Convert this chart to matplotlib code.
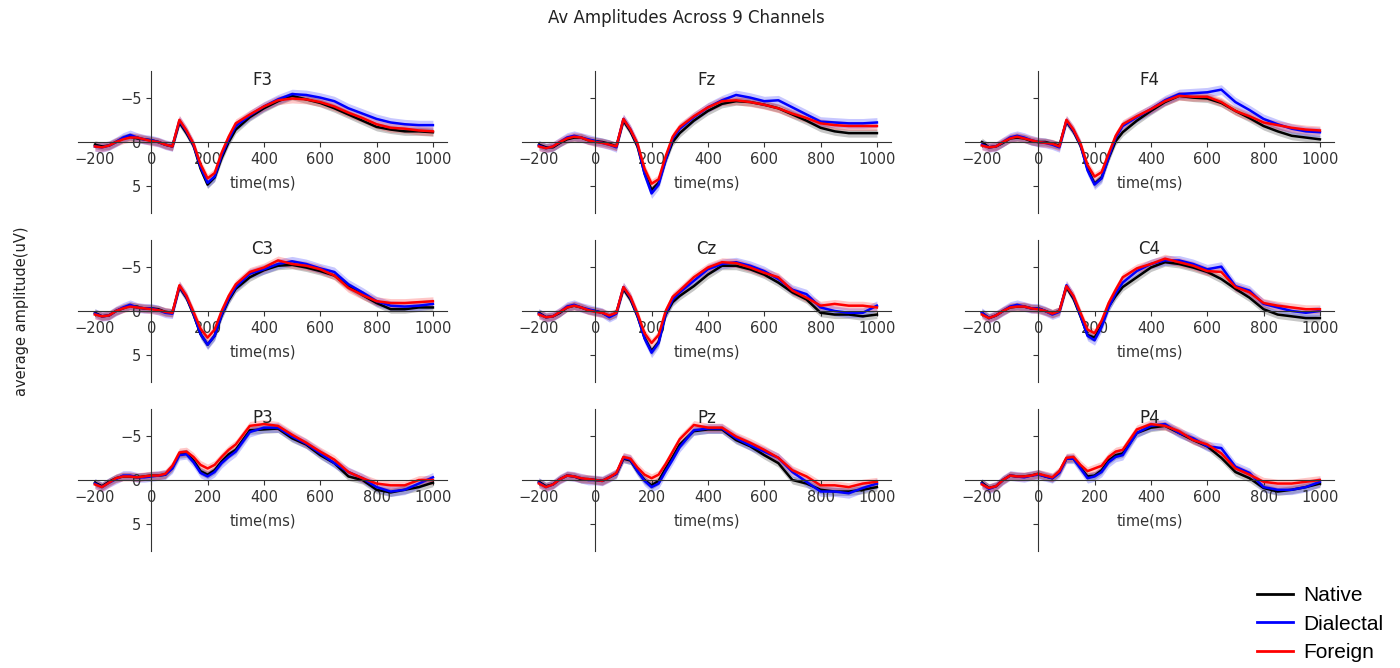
import numpy as np
import matplotlib.pyplot as plt
from matplotlib.lines import Line2D

# sample times (ms) at which the averaged waveforms were read
times = [-200, -175, -150, -125, -100, -75, -50, -25, 0, 25, 50, 75, 100, 125, 150,
         175, 200, 225, 250, 275, 300, 350, 400, 450, 500, 550, 600, 650, 700, 750,
         800, 850, 900, 950, 1000]

channels = ["F3", "Fz", "F4", "C3", "Cz", "C4", "P3", "Pz", "P4"]
conditions = ["Native", "Dialectal", "Foreign"]
colors = ["black", "blue", "red"]
ci_half = [0.45, 0.55, 0.5]   # half width of the shaded band (uV)

f3_native = [0.3, 0.5, 0.4, 0.0, -0.4, -0.6, -0.4, -0.3, -0.2, 0.0, 0.3, 0.5, -2.2, -1.0, 0.4, 3.0, 4.8, 4.0, 1.8, 0.0, -1.4, -2.8, -3.8, -4.6, -5.2, -4.8, -4.4, -3.8, -3.1, -2.4, -1.7, -1.4, -1.2, -1.2, -1.1]
f3_dialectal = [0.5, 0.6, 0.4, 0.0, -0.5, -0.8, -0.5, -0.3, -0.2, 0.0, 0.3, 0.5, -2.4, -1.2, 0.3, 2.8, 4.6, 3.9, 1.5, -0.3, -1.8, -3.0, -4.0, -4.8, -5.4, -5.3, -5.0, -4.6, -3.8, -3.2, -2.6, -2.2, -2.0, -1.9, -1.9]
f3_foreign = [0.5, 0.6, 0.4, 0.0, -0.3, -0.5, -0.5, -0.3, -0.1, 0.0, 0.3, 0.5, -2.5, -1.3, 0.2, 2.5, 4.1, 3.5, 1.2, -0.6, -2.1, -3.1, -4.0, -4.7, -4.9, -4.8, -4.5, -4.0, -3.3, -2.7, -2.0, -1.6, -1.5, -1.3, -1.2]

fz_native = [0.3, 0.6, 0.6, 0.1, -0.3, -0.5, -0.5, -0.2, -0.1, 0.0, 0.2, 0.5, -2.4, -1.2, 0.5, 3.5, 5.4, 4.6, 2.0, 0.0, -1.0, -2.4, -3.5, -4.3, -4.6, -4.5, -4.2, -3.8, -3.1, -2.4, -1.6, -1.2, -1.0, -1.0, -1.0]
fz_dialectal = [0.4, 0.7, 0.5, 0.0, -0.5, -0.7, -0.5, -0.3, -0.1, 0.1, 0.3, 0.6, -2.6, -1.4, 0.3, 3.6, 5.8, 4.8, 2.0, -0.4, -1.5, -2.8, -3.9, -4.7, -5.3, -5.0, -4.6, -4.7, -3.9, -3.1, -2.3, -2.2, -2.1, -2.1, -2.2]
fz_foreign = [0.5, 0.7, 0.5, 0.0, -0.4, -0.6, -0.5, -0.2, 0.0, 0.1, 0.3, 0.5, -2.6, -1.4, 0.2, 3.0, 4.7, 4.2, 1.6, -0.6, -1.7, -2.9, -3.9, -4.6, -4.7, -4.5, -4.2, -3.8, -3.2, -2.7, -2.1, -1.9, -1.8, -1.8, -1.8]

f4_native = [0.0, 0.6, 0.5, 0.1, -0.4, -0.5, -0.4, -0.1, 0.0, 0.0, 0.2, 0.4, -2.3, -1.2, 0.4, 3.0, 4.7, 4.0, 1.8, -0.1, -1.1, -2.4, -3.5, -4.5, -5.2, -5.0, -4.9, -4.4, -3.5, -2.7, -1.8, -1.2, -0.7, -0.5, -0.3]
f4_dialectal = [0.3, 0.6, 0.5, 0.0, -0.5, -0.7, -0.5, -0.2, 0.0, 0.1, 0.3, 0.6, -2.4, -1.3, 0.3, 3.2, 4.8, 4.1, 1.7, -0.5, -1.8, -2.8, -3.7, -4.7, -5.4, -5.5, -5.6, -5.9, -4.5, -3.6, -2.6, -2.0, -1.5, -1.2, -1.1]
f4_foreign = [0.4, 0.6, 0.5, 0.0, -0.4, -0.6, -0.4, -0.2, 0.0, 0.1, 0.2, 0.5, -2.5, -1.4, 0.2, 2.6, 3.9, 3.4, 1.3, -0.7, -2.0, -2.9, -3.7, -4.6, -5.2, -5.1, -5.1, -4.5, -3.5, -2.9, -2.2, -1.9, -1.6, -1.4, -1.3]

c3_native = [0.2, 0.6, 0.5, 0.0, -0.3, -0.6, -0.4, -0.3, -0.3, -0.2, 0.1, 0.2, -2.7, -1.5, 0.4, 2.6, 3.8, 2.8, 0.5, -1.2, -2.5, -3.8, -4.6, -5.1, -5.2, -4.9, -4.5, -4.0, -2.8, -1.8, -0.9, -0.2, -0.2, -0.4, -0.4]
c3_dialectal = [0.3, 0.6, 0.5, 0.0, -0.4, -0.7, -0.4, -0.3, -0.3, -0.1, 0.2, 0.3, -2.8, -1.6, 0.3, 2.6, 3.8, 2.8, 0.4, -1.4, -2.7, -4.2, -4.7, -5.3, -5.6, -5.3, -4.8, -4.4, -3.0, -2.1, -1.1, -0.6, -0.5, -0.6, -0.8]
c3_foreign = [0.4, 0.6, 0.5, 0.0, -0.3, -0.5, -0.4, -0.3, -0.2, -0.1, 0.1, 0.2, -2.9, -1.7, 0.1, 2.0, 3.0, 2.1, 0.0, -1.7, -3.0, -4.4, -4.9, -5.7, -5.3, -5.1, -4.7, -4.0, -2.6, -1.8, -1.1, -0.9, -0.9, -1.0, -1.1]

cz_native = [0.2, 0.7, 0.6, 0.2, -0.4, -0.6, -0.4, -0.1, 0.0, 0.2, 0.6, 0.2, -2.5, -1.3, 0.6, 3.0, 4.5, 3.5, 0.4, -1.0, -1.7, -2.8, -4.1, -5.1, -5.1, -4.7, -4.1, -3.2, -2.1, -1.3, 0.2, 0.4, 0.4, 0.6, 0.4]
cz_dialectal = [0.3, 0.7, 0.6, 0.1, -0.5, -0.7, -0.4, -0.2, 0.0, 0.2, 0.7, 0.3, -2.7, -1.5, 0.5, 3.1, 4.7, 3.6, 0.3, -1.3, -2.1, -3.4, -4.7, -5.3, -5.5, -5.1, -4.5, -3.6, -2.4, -1.9, -0.4, 0.0, 0.2, 0.2, -0.6]
cz_foreign = [0.4, 0.7, 0.6, 0.1, -0.4, -0.6, -0.4, -0.1, 0.1, 0.2, 0.5, 0.2, -2.7, -1.6, 0.3, 2.5, 3.6, 2.7, 0.0, -1.6, -2.3, -3.8, -4.9, -5.5, -5.4, -4.9, -4.3, -3.8, -2.3, -1.5, -0.6, -0.8, -0.6, -0.6, -0.4]

c4_native = [0.2, 0.8, 0.5, 0.0, -0.4, -0.5, -0.5, -0.3, -0.3, 0.0, 0.3, 0.0, -2.7, -1.4, 0.6, 2.7, 3.0, 1.6, -0.5, -1.7, -2.7, -3.8, -4.9, -5.5, -5.3, -4.9, -4.4, -3.6, -2.5, -1.5, -0.2, 0.4, 0.6, 0.8, 0.8]
c4_dialectal = [0.2, 0.8, 0.5, 0.0, -0.5, -0.7, -0.5, -0.3, -0.3, 0.0, 0.4, 0.1, -2.9, -1.6, 0.5, 2.8, 3.3, 1.8, -0.4, -2.0, -3.2, -4.5, -5.3, -5.7, -5.7, -5.3, -4.7, -5.0, -2.8, -2.3, -0.8, -0.4, 0.0, 0.2, 0.0]
c4_foreign = [0.4, 0.8, 0.5, 0.0, -0.4, -0.5, -0.5, -0.3, -0.2, 0.0, 0.3, 0.0, -2.8, -1.7, 0.2, 2.1, 2.5, 1.1, -0.9, -2.4, -3.8, -4.8, -5.3, -5.9, -5.5, -5.1, -4.5, -4.4, -2.7, -2.1, -0.9, -0.6, -0.4, -0.2, -0.2]

p3_native = [0.3, 0.7, 0.2, -0.2, -0.4, -0.4, -0.3, -0.4, -0.5, -0.5, -0.6, -1.4, -2.9, -3.0, -2.2, -1.0, -0.6, -1.1, -2.1, -2.9, -3.4, -5.6, -5.7, -5.8, -4.7, -4.0, -2.8, -1.9, -0.4, 0.0, 1.1, 1.4, 1.1, 0.8, 0.3]
p3_dialectal = [0.4, 0.8, 0.3, -0.1, -0.5, -0.5, -0.3, -0.3, -0.4, -0.5, -0.6, -1.3, -2.8, -2.9, -2.0, -0.8, -0.4, -0.9, -1.9, -2.6, -3.2, -5.4, -5.9, -5.9, -4.9, -4.1, -3.0, -1.9, -0.9, -0.2, 0.8, 1.3, 1.1, 0.4, -0.3]
p3_foreign = [0.5, 0.8, 0.3, -0.2, -0.4, -0.4, -0.3, -0.4, -0.5, -0.5, -0.7, -1.6, -3.1, -3.2, -2.6, -1.7, -1.3, -1.7, -2.6, -3.4, -4.0, -6.1, -6.3, -6.1, -5.1, -4.2, -3.2, -2.3, -0.9, -0.2, 0.4, 0.6, 0.6, 0.0, 0.0]

pz_native = [0.2, 0.7, 0.5, -0.1, -0.5, -0.4, -0.1, -0.1, 0.0, 0.1, -0.3, -0.7, -2.4, -2.2, -1.0, 0.0, 0.6, 0.1, -1.3, -2.6, -4.0, -5.5, -5.7, -5.7, -4.5, -3.8, -2.8, -1.9, 0.0, 0.4, 1.1, 1.3, 1.3, 1.1, 0.8]
pz_dialectal = [0.3, 0.8, 0.5, -0.1, -0.5, -0.4, -0.2, 0.0, 0.0, 0.1, -0.3, -0.7, -2.5, -2.3, -1.0, 0.1, 0.8, 0.4, -1.0, -2.3, -3.7, -5.6, -5.8, -5.8, -4.7, -3.9, -3.2, -2.5, -0.9, 0.2, 1.3, 1.3, 1.5, 0.9, 0.4]
pz_foreign = [0.4, 0.8, 0.5, -0.1, -0.5, -0.4, -0.2, -0.1, 0.0, 0.1, -0.3, -0.8, -2.6, -2.4, -1.4, -0.6, -0.2, -0.6, -1.8, -3.2, -4.6, -6.2, -5.9, -5.9, -4.9, -4.2, -3.4, -2.5, -1.1, -0.4, 0.6, 0.6, 0.8, 0.4, 0.2]

p4_native = [0.3, 0.9, 0.7, 0.0, -0.5, -0.4, -0.4, -0.5, -0.7, -0.4, -0.2, -0.9, -2.4, -2.4, -1.4, -0.4, -0.5, -1.1, -2.2, -2.8, -3.0, -5.3, -5.9, -6.1, -5.3, -4.5, -3.8, -2.5, -0.9, -0.2, 0.9, 1.3, 1.1, 0.8, 0.4]
p4_dialectal = [0.4, 1.0, 0.7, 0.0, -0.5, -0.4, -0.3, -0.5, -0.6, -0.4, -0.2, -0.8, -2.4, -2.4, -1.3, -0.2, -0.4, -0.9, -2.0, -2.6, -2.8, -5.3, -6.1, -6.3, -5.3, -4.7, -3.8, -3.6, -1.5, -0.8, 0.8, 1.1, 1.1, 0.8, 0.2]
p4_foreign = [0.5, 0.9, 0.7, 0.0, -0.5, -0.4, -0.4, -0.5, -0.7, -0.5, -0.3, -1.0, -2.5, -2.6, -1.7, -1.0, -1.3, -1.6, -2.6, -3.2, -3.4, -5.7, -6.3, -6.1, -5.5, -4.5, -4.0, -3.0, -1.3, -0.6, 0.2, 0.4, 0.4, 0.2, 0.0]

waves = {
    "F3": [f3_native, f3_dialectal, f3_foreign],
    "Fz": [fz_native, fz_dialectal, fz_foreign],
    "F4": [f4_native, f4_dialectal, f4_foreign],
    "C3": [c3_native, c3_dialectal, c3_foreign],
    "Cz": [cz_native, cz_dialectal, cz_foreign],
    "C4": [c4_native, c4_dialectal, c4_foreign],
    "P3": [p3_native, p3_dialectal, p3_foreign],
    "Pz": [pz_native, pz_dialectal, pz_foreign],
    "P4": [p4_native, p4_dialectal, p4_foreign],
}


def main():
    fig = plt.figure(figsize=(14, 6.68), dpi=100)
    W, H = 1400.0, 668.0
    col_left = [78, 522, 965]
    row_top = [71, 240, 409]
    aw, ah = 369, 142

    for i, ch in enumerate(channels):
        r, c = divmod(i, 3)
        ax = fig.add_axes([col_left[c] / W, 1 - (row_top[r] + ah) / H, aw / W, ah / H])
        ax.patch.set_alpha(0)
        for series, color, hw in zip(waves[ch], colors, ci_half):
            y = np.array(series)
            ax.fill_between(times, y - hw, y + hw, color=color, alpha=0.22, lw=0)
            ax.plot(times, y, color=color, lw=1.8)

        ax.set_xlim(-260, 1050)
        ax.set_ylim(8, -8)
        # spines cross at the origin, like an ERP plot
        ax.spines["left"].set_position(("data", 0))
        ax.spines["bottom"].set_position(("data", 0))
        ax.spines["top"].set_visible(False)
        ax.spines["right"].set_visible(False)
        for s in ("left", "bottom"):
            ax.spines[s].set_color("#333333")
        ax.set_xticks(range(-200, 1001, 200))
        ax.set_yticks([-5, 0, 5])
        ax.tick_params(labelsize=10.5, colors="#333333", length=3.5)
        if c != 0:
            ax.set_yticklabels([])
        ax.set_xlabel("time(ms)", fontsize=10.5, color="#333333", labelpad=6)
        ax.text(0.5, 0.935, ch, transform=ax.transAxes, ha="center", va="center",
                fontsize=12, color="#222222")

    fig.text(686 / W, 1 - 18 / H, "Av Amplitudes Across 9 Channels",
             ha="center", va="center", fontsize=12, color="#222222")
    fig.text(22 / W, 1 - 311 / H, "average amplitude(uV)", rotation=90,
             ha="center", va="center", fontsize=10.5, color="#222222")

    handles = [Line2D([0], [0], color=col, lw=2) for col in colors]
    fig.legend(handles, conditions, loc="center left",
               bbox_to_anchor=(1249 / W, 1 - 624 / H), frameon=False,
               prop={"family": "Liberation Sans", "size": 15},
               handlelength=1.7, handletextpad=0.5, labelspacing=0.45,
               borderaxespad=0)

    fig.savefig("out.png", dpi=100)


if __name__ == "__main__":
    main()
